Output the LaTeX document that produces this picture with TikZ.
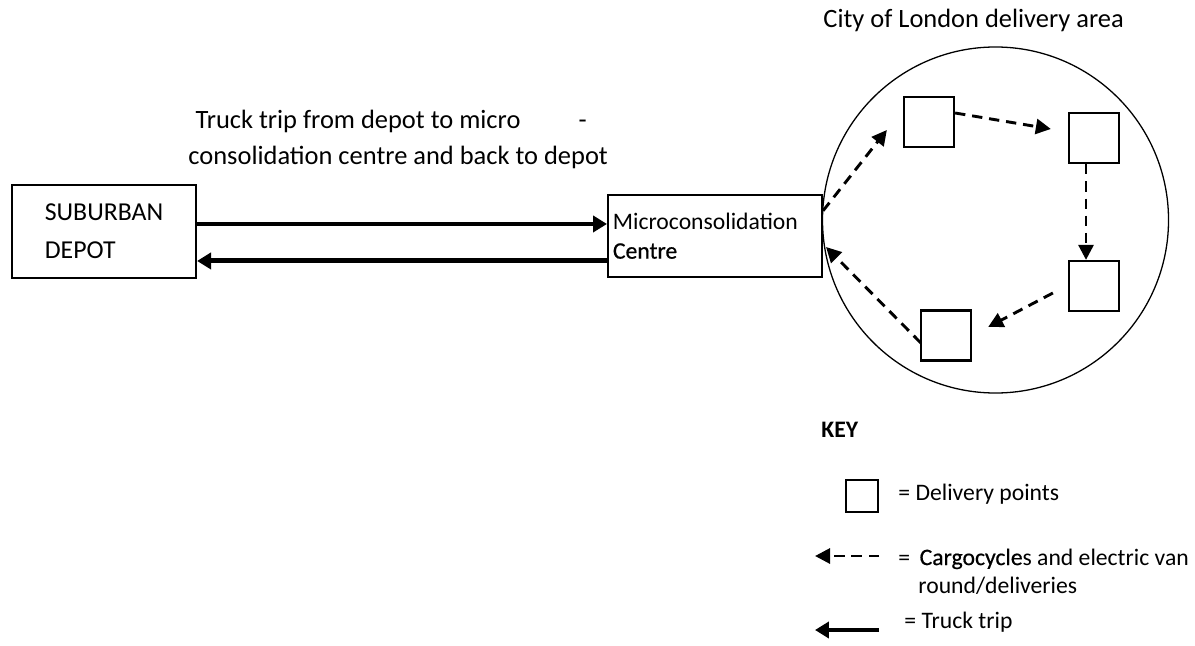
\documentclass[tikz,border=0pt]{standalone}
\usepackage{fontspec}
\setmainfont{Carlito}
\newfontfamily\heavier{Carlito}[FakeBold=0.6]
\usetikzlibrary{positioning,arrows.meta,calc}
\newcommand{\px}{0.465pt}
\newcommand{\normtxt}{\fontsize{11}{13}\selectfont}
\newcommand{\bigtxt}{\fontsize{12.3}{17.2}\selectfont}
\tikzset{
  site/.style      = {rectangle, draw, line width=0.95pt, inner sep=0pt, align=left},
  spot/.style      = {rectangle, draw, line width=1pt, minimum size=23.3pt, inner sep=0pt},
  truckflow/.style = {-{Triangle[length=6.5pt, width=7.5pt]}, line width=2.3pt},
  vanflow/.style   = {-{Triangle[length=7pt, width=7pt]}, line width=1.35pt,
                      dash pattern=on 4.8pt off 3.2pt},
  note/.style      = {anchor=base west, inner sep=0pt, align=left, font=\normtxt},
}
\begin{document}
\begin{tikzpicture}[x=\px, y=-\px]
  \path[fill=white] (0,0) rectangle (1195,645);
  \useasboundingbox (0,0) rectangle (1195,645);

  % depot and centre (multi-line notes sit on the baseline of their last line)
  \node[site, minimum width=85.6pt, minimum height=43.2pt,
        font={\fontsize{12}{17.7}\selectfont}] (depot) at (104,231.5) {SUBURBAN\\DEPOT};
  \node[site, minimum width=99.5pt, minimum height=38.1pt, text width=94.9pt,
        inner xsep=2.3pt, font={\fontsize{11}{13.5}\selectfont}] (micro) at (715,236) {Microconsolidation\\{\heavier Centre}};
  \node[note, font=\bigtxt] (trip) at (188,165)
    {\hspace*{3.3pt}Truck trip from depot to micro\hspace{2.2em}-\\consolidation centre and back to depot};

  \draw[truckflow] ([yshift=3.5pt]depot.east) -- ([yshift=3.5pt]depot.east -| micro.west);
  \draw[truckflow] ([yshift=-13.7pt]depot.east -| micro.west) -- ([yshift=-13.7pt]depot.east);

  % delivery area
  \node[circle, draw, line width=0.6pt, minimum size=160.9pt, inner sep=0pt] (area) at (995.5,220) {};
  \node[note, font=\bigtxt] (title) at (823,28) {City of London delivery area};
  \node[spot] (s1) at (929,122) {};
  \node[spot] (s2) at (1094,138) {};
  \node[spot] (s3) at (1094,286) {};
  \node[spot] (s4) at (946,335.5) {};

  \draw[vanflow] ($(micro.north east)!0.2!(micro.south east)$) -- ($(s1.west)+(-16,8)$);
  \draw[vanflow] ($(s1.east)+(0,-9)$) -- ($(s2.west)+(-17,-9)$);
  \draw[vanflow] ($(s2.south)+(-8,0)$) -- ($(s3.north)+(-8,0)$);
  \draw[vanflow] ($(s3.west)+(-15,7)$) -- ($(s4.east)+(16,-8.5)$);
  \draw[vanflow] ($(s4.west)+(1,7.5)$) -- ($(micro.east)+(3,11)$);

  % key
  \node[note, font=\bfseries\normtxt] (key) at (821,437) {KEY};
  \node[spot, minimum size=14.9pt] (keyspot) at (862,496) {};
  \node[note] (keyspottxt) at (898,500) {= Delivery points};
  \coordinate (vanR) at (879,556);
  \coordinate (vanL) at (815,556);
  \draw[vanflow] (vanR) -- (vanL);
  \node[note] (keyvantxt) at (898,593)
    {=\hspace{4.4pt}{\heavier Cargocycle}s and electric van\\\hspace*{9.3pt}round/deliveries};
  \coordinate (truckR) at (879,630);
  \coordinate (truckL) at (815,630);
  \draw[truckflow] (truckR) -- (truckL);
  \node[note] (keytrucktxt) at (904,628) {= Truck trip};
\end{tikzpicture}
\end{document}
